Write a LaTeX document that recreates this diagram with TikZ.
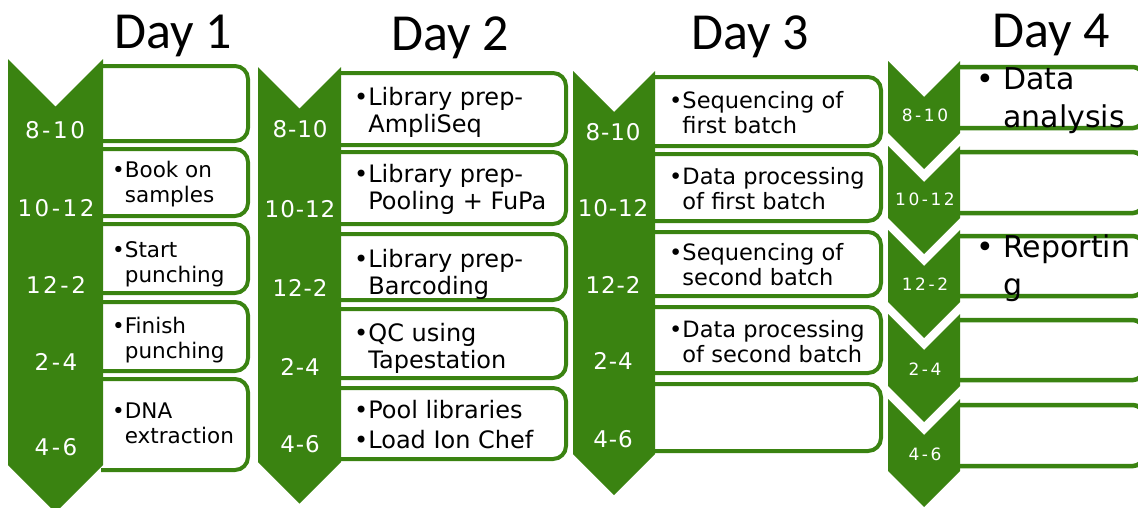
\documentclass[tikz,border=0pt]{standalone}
\usepackage{fontspec}
\setmainfont{DejaVu Sans}
\newfontfamily\titlefont{Carlito}
\newfontfamily\hourfont[LetterSpace=4]{DejaVu Sans}
\newfontfamily\widehourfont[LetterSpace=11]{DejaVu Sans}
\newfontfamily\smallhourfont[LetterSpace=15]{DejaVu Sans}
\definecolor{dayGreen}{RGB}{58,131,17}
\tikzset{
	slotline/.style={draw=dayGreen, line width=4pt, rounded corners=13pt},
	lastslot/.style={slotline, line width=4.5pt, rounded corners=10pt},
	day/.style={anchor=base, inner sep=0pt, font=\titlefont\fontsize{52}{60}\selectfont},
	hour/.style={anchor=base, inner sep=0pt, text=white},
	task/.style={anchor=base west, align=left, inner sep=0pt},
}

\begin{document}
\begin{tikzpicture}[x=1pt, y=-1pt]
	\newcommand{\STRIP}[4]{\fill[dayGreen] (#1,#3) -- ({(#1+#2)/2},{#3+(#2-#1)/2}) -- (#2,#3) -- (#2,#4) -- ({(#1+#2)/2},{#4+(#2-#1)/2}) -- (#1,#4) -- cycle;}
	\newcommand{\SLOT}[4]{\draw[slotline] (#1,#3) -- (#2,#3) -- (#2,#4) -- (#1,#4);}
	\useasboundingbox (0,0) rectangle (1138,507);
	\clip (0,0) rectangle (1138,507);

	\node(day1)[day] at (173,48){Day 1};
	\node(day2)[day] at (450,50){Day 2};
	\node(day3)[day] at (750,49){Day 3};
	\node(day4)[day] at (1051,47){Day 4};

	% day 1 (task nodes sit on the baseline of their last line)
	\SLOT{101}{248}{66}{141}
	\SLOT{101}{248}{149}{216}
	\SLOT{101}{248}{224}{293}
	\SLOT{101}{248}{302}{371}
	\SLOT{101}{248}{379}{470}
	\STRIP{8}{103}{59}{465}
	\begin{scope}[hour, font=\widehourfont\fontsize{23}{23}\selectfont]
		\node(d1h1)[hour] at (55,138){8-10};
		\node(d1h2)[hour] at (56,216){10-12};
		\node(d1h3)[hour] at (56,293){12-2};
		\node(d1h4)[hour] at (56,370){2-4};
		\node(d1h5)[hour] at (56,455){4-6};
	\end{scope}
	\begin{scope}[font=\fontsize{21.5}{24.5}\selectfont]
		\node(d1t2)[task] at (112,202){\textbullet Book on\\\hphantom{\textbullet}samples};
		\node(d1t3)[task] at (112,282){\textbullet Start\\\hphantom{\textbullet}punching};
		\node(d1t4)[task] at (112,358){\textbullet Finish\\\hphantom{\textbullet}punching};
		\node(d1t5)[task] at (112,443){\textbullet DNA\\\hphantom{\textbullet}extraction};
	\end{scope}

	% day 2
	\SLOT{339}{566}{73}{145}
	\SLOT{339}{566}{152}{224}
	\SLOT{339}{566}{234}{300}
	\SLOT{339}{566}{309}{378}
	\SLOT{339}{566}{388}{459}
	\STRIP{258}{341}{67}{462}
	\begin{scope}[font=\hourfont\fontsize{23}{23}\selectfont]
		\node(d2h1)[hour] at (300,137){8-10};
		\node(d2h2)[hour] at (300,217){10-12};
		\node(d2h3)[hour] at (300,296){12-2};
		\node(d2h4)[hour] at (300,375){2-4};
		\node(d2h5)[hour] at (300,452){4-6};
	\end{scope}
	\begin{scope}[font=\fontsize{24}{27}\selectfont]
		\node(d2t1)[task] at (354,132){\textbullet Library prep-\\\hphantom{\textbullet}AmpliSeq};
		\node(d2t2)[task] at (354,209){\textbullet Library prep-\\\hphantom{\textbullet}Pooling + FuPa};
		\node(d2t3)[task] at (354,294){\textbullet Library prep-\\\hphantom{\textbullet}Barcoding};
		\node(d2t4)[task] at (354,368){\textbullet QC using\\\hphantom{\textbullet}Tapestation};
		\node(d2t5)[task, font=\fontsize{24}{30}\selectfont] at (354,448){\textbullet Pool libraries\\\textbullet Load Ion Chef};
	\end{scope}

	% day 3
	\SLOT{653}{881}{77}{146}
	\SLOT{653}{881}{154}{221}
	\SLOT{653}{881}{232}{296}
	\SLOT{653}{881}{307}{373}
	\SLOT{653}{881}{384}{451}
	\STRIP{573}{655}{71}{454}
	\begin{scope}[font=\hourfont\fontsize{23}{23}\selectfont]
		\node(d3h1)[hour] at (613,140){8-10};
		\node(d3h2)[hour] at (613,216){10-12};
		\node(d3h3)[hour] at (613,293){12-2};
		\node(d3h4)[hour] at (613,369){2-4};
		\node(d3h5)[hour] at (613,447){4-6};
	\end{scope}
	\begin{scope}[font=\fontsize{22.5}{25}\selectfont]
		\node(d3t1)[task] at (669,133){\textbullet Sequencing of\\\hphantom{\textbullet}first batch};
		\node(d3t2)[task] at (669,209){\textbullet Data processing\\\hphantom{\textbullet}of first batch};
		\node(d3t3)[task] at (669,285){\textbullet Sequencing of\\\hphantom{\textbullet}second batch};
		\node(d3t4)[task] at (669,362){\textbullet Data processing\\\hphantom{\textbullet}of second batch};
	\end{scope}

	% day 4
	\draw[lastslot] (958,67) -- (1143,67) -- (1143,128) -- (958,128);
	\draw[lastslot] (958,152) -- (1143,152) -- (1143,213) -- (958,213);
	\draw[lastslot] (958,236) -- (1143,236) -- (1143,296) -- (958,296);
	\draw[lastslot] (958,320) -- (1143,320) -- (1143,380) -- (958,380);
	\draw[lastslot] (958,405) -- (1143,405) -- (1143,466) -- (958,466);
	\STRIP{888}{960}{61}{133}
	\STRIP{888}{960}{146}{218}
	\STRIP{888}{960}{230}{302}
	\STRIP{888}{960}{314}{386}
	\STRIP{888}{960}{399}{471}
	\begin{scope}[font=\smallhourfont\fontsize{17}{17}\selectfont]
		\node(d4h1)[hour] at (925,121){8-10};
		\node(d4h2)[hour] at (925,205){10-12};
		\node(d4h3)[hour] at (925,290){12-2};
		\node(d4h4)[hour] at (925,375){2-4};
		\node(d4h5)[hour] at (925,460){4-6};
	\end{scope}
	\begin{scope}[font=\fontsize{30}{37.5}\selectfont]
		\node(d4t1)[task] at (976,127){\textbullet\ Data\\\hphantom{\textbullet\ }analysis};
		\node(d4t3)[task] at (976,295){\textbullet\ Reportin\\\hphantom{\textbullet\ }g};
	\end{scope}
\end{tikzpicture}
\end{document}
